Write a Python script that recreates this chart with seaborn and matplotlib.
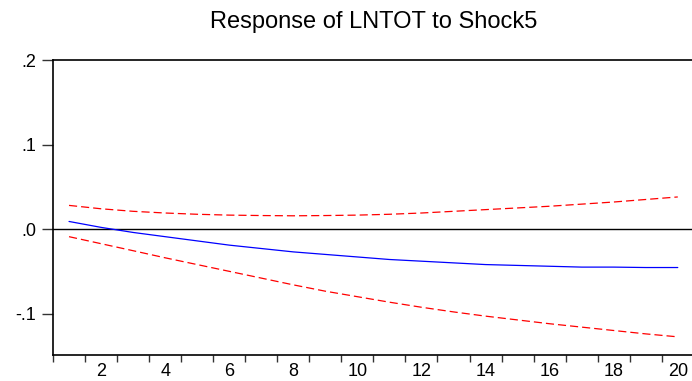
import matplotlib
matplotlib.use("Agg")
import matplotlib.pyplot as plt
from matplotlib.ticker import FixedLocator, FixedFormatter
import seaborn as sns
import pandas as pd

# Impulse response of LNTOT to Shock5, periods 1..20
periods = list(range(1, 21))
response = [0.009, 0.002, -0.004, -0.009, -0.014, -0.019, -0.023, -0.027, -0.030, -0.033,
            -0.036, -0.038, -0.040, -0.042, -0.043, -0.044, -0.045, -0.045, -0.0455, -0.0455]
upper = [0.028, 0.024, 0.021, 0.019, 0.0175, 0.0165, 0.016, 0.0157, 0.016, 0.0165,
         0.0175, 0.019, 0.021, 0.023, 0.025, 0.027, 0.0295, 0.032, 0.035, 0.038]
lower = [-0.009, -0.0173, -0.0256, -0.034, -0.042, -0.050, -0.058, -0.066, -0.0735, -0.080,
         -0.0865, -0.0925, -0.098, -0.103, -0.1075, -0.112, -0.116, -0.120, -0.124, -0.1275]
y_ticks = [-0.1, 0.0, 0.1, 0.2]
y_labels = ["-.1", ".0", ".1", ".2"]
x_labels = [str(p) for p in periods if p % 2 == 0]

df = pd.DataFrame({"period": periods, "response": response, "upper": upper, "lower": lower})

sns.set_style("white")
plt.rcParams["font.family"] = ["Liberation Sans", "DejaVu Sans"]
plt.rcParams["text.color"] = "black"
plt.rcParams["xtick.color"] = "black"
plt.rcParams["ytick.color"] = "black"

fig = plt.figure(figsize=(6.92, 3.81), dpi=100)
ax = fig.add_axes([0.0766, 0.0682, 0.926, 0.7743])

ax.axhline(0, color="black", lw=1.0, zorder=1)
dash = (0, (6.5, 3.2))
sns.lineplot(data=df, x="period", y="response", color="#0000ff", lw=0.9, ax=ax)
sns.lineplot(data=df, x="period", y="upper", color="#ff0000", lw=0.9, ax=ax, linestyle=dash)
sns.lineplot(data=df, x="period", y="lower", color="#ff0000", lw=0.9, ax=ax, linestyle=dash)

ax.set_xlim(0.5, 20.5)
ax.set_ylim(-0.149, 0.2)
ax.set_xlabel("")
ax.set_ylabel("")

# labels at even periods, tick marks at the period boundaries
ax.xaxis.set_major_locator(FixedLocator([p for p in periods if p % 2 == 0]))
ax.xaxis.set_major_formatter(FixedFormatter(x_labels))
ax.xaxis.set_minor_locator(FixedLocator([p + 0.5 for p in range(0, 21)]))
ax.tick_params(axis="x", which="major", length=0, pad=6, labelsize=13)
ax.tick_params(axis="x", which="minor", direction="out", length=5, width=1, color="#333333")

ax.set_yticks(y_ticks)
ax.set_yticklabels(y_labels)
ax.tick_params(axis="y", direction="out", length=8, width=1, pad=4, labelsize=13, color="#333333")
ax.tick_params(left=True, bottom=True, which="both")

for side in ["left", "bottom", "top", "right"]:
    ax.spines[side].set_color("black")
    ax.spines[side].set_linewidth(1.2)

ax.set_title("Response of LNTOT to Shock5", fontsize=17, pad=23, color="black")

fig.savefig("out.png", dpi=100)
